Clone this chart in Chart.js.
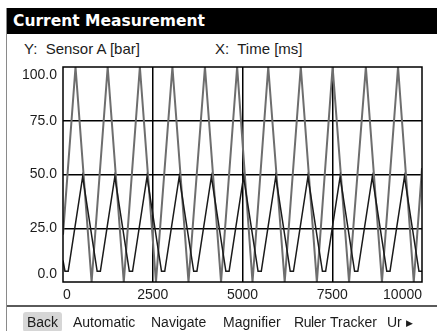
<!DOCTYPE html>
<html>
<head>
<meta charset="utf-8">
<script src="https://cdn.jsdelivr.net/npm/chart.js@4.4.1/dist/chart.umd.min.js"></script>
<style>
  body { margin: 0; width: 437px; height: 331px; background: #fff; overflow: hidden; position: relative;
         font-family: "Liberation Sans", Arial, sans-serif; color: #1c1c1c; }
  #frame { position: absolute; left: 6px; top: 8px; width: 1px; height: 323px; background: #8a8a8a; }
  #title { position: absolute; left: 7px; top: 8px; right: 0; height: 26px; background: #000; color: #fff;
           font: bold 15.5px "DejaVu Sans", sans-serif; line-height: 27px; padding-left: 6px; }
  .axisName { position: absolute; top: 40px; font-size: 15px; line-height: 17px; white-space: pre; }
  #chartBox { position: absolute; left: 0; top: 56px; width: 437px; height: 250px; }
  #menu { position: absolute; left: 7px; top: 305px; right: 0; height: 26px; border-top: 2px solid #5a5a5a; }
  .item { position: absolute; top: 7px; font-size: 14px; line-height: 16px; white-space: pre; }
  .item.active { background: #d6d6d6; border-radius: 3px; padding: 2px 4px; margin: -2px 0 0 -4px; }
  .more { font-size: 9px; margin-left: 4px; vertical-align: 1px; }
</style>
</head>
<body>
<div id="frame"></div>
<div id="title">Current Measurement</div>
<div class="axisName" style="left:24px">Y:  Sensor A [bar]</div>
<div class="axisName" style="left:215px">X:  Time [ms]</div>
<div id="chartBox"><canvas id="chart" width="437" height="250"></canvas></div>
<div id="menu">
  <span class="item active" style="left:20px">Back</span>
  <span class="item" style="left:66px">Automatic</span>
  <span class="item" style="left:144px">Navigate</span>
  <span class="item" style="left:216px">Magnifier</span>
  <span class="item" style="left:287px;letter-spacing:-0.4px">Ruler</span>
  <span class="item" style="left:323px">Tracker</span>
  <span class="item" style="left:380px">Ur<span class="more">&#9654;</span></span>
</div>
<script>
// big triangle signal, 0..100 bar
const rampTimes  = [0, 350, 800, 1250, 1700, 2150, 2600, 3060, 3510, 3970, 4420, 4870, 5300, 5740, 6200, 6650, 7100, 7540, 8000, 8470, 8920, 9370, 9810, 10040];
const rampValues = [22, 100, 0, 100, 0, 100, 0, 100, 0, 100, 0, 100, 0, 100, 0, 100, 0, 100, 0, 100, 0, 100, 0, 53];

// smaller signal with flat bottoms
const stepTimes  = [0, 55, 145, 550, 955, 1045, 1450, 1855, 1945, 2350, 2755, 2845, 3250, 3655, 3745, 4150, 4555, 4645, 5050, 5455, 5545, 5950, 6355, 6445, 6850, 7255, 7345, 7750, 8155, 8245, 8650, 9055, 9145, 9550, 9955, 10040];
const stepValues = [10, 5, 5, 49, 5, 5, 49, 5, 5, 49, 5, 5, 49, 5, 5, 49, 5, 5, 49, 5, 5, 49, 5, 5, 49, 5, 5, 49, 5, 5, 49, 5, 5, 49, 5, 5];

const xTicks = ['0', '2500', '5000', '7500', '10000'];
const yTicks = ['0.0', '25.0', '50.0', '75.0', '100.0'];

const toPoints = (xs, ys) => xs.map((x, i) => ({ x: x, y: ys[i] }));

// black box round the plot area
const plotFrame = {
  id: 'plotFrame',
  afterDraw(chart) {
    const { ctx, chartArea: a } = chart;
    ctx.save();
    ctx.strokeStyle = '#000';
    ctx.lineWidth = 1.5;
    ctx.strokeRect(a.left, a.top, a.right - a.left, a.bottom - a.top);
    ctx.restore();
  }
};

const tickFont = { family: '"Liberation Sans", Arial, sans-serif', size: 14 };
const innerGrid = (lo, hi) => c => (c.tick && c.tick.value > lo && c.tick.value < hi) ? '#000' : 'rgba(0,0,0,0)';

// end labels of the value axis sit inside the box: pad them with an empty line
const yLabel = (v, i, ticks) => {
  if (i === 0) return [yTicks[i], ''];
  if (i === ticks.length - 1) return ['', yTicks[i]];
  return yTicks[i];
};

new Chart(document.getElementById('chart'), {
  type: 'line',
  data: {
    datasets: [
      {
        data: toPoints(stepTimes, stepValues),
        borderColor: '#1a1a1a',
        borderWidth: 1.5,
        pointRadius: 0,
        tension: 0,
        order: 0
      },
      {
        data: toPoints(rampTimes, rampValues),
        borderColor: '#6e6e6e',
        borderWidth: 2,
        pointRadius: 0,
        tension: 0,
        order: 1
      }
    ]
  },
  options: {
    responsive: false,
    devicePixelRatio: 1,
    animation: false,
    events: [],
    layout: { padding: { top: 11, right: 15, bottom: 0, left: 0 } },
    plugins: { legend: { display: false }, tooltip: { enabled: false } },
    scales: {
      x: {
        type: 'linear',
        min: 0,
        max: 10040,
        afterFit(s) { s.height = 24; s.paddingLeft = 0; s.paddingRight = 0; },
        ticks: {
          stepSize: 2500,
          includeBounds: false,
          align: 'inner',
          padding: 5,
          maxRotation: 0,
          autoSkip: false,
          color: '#1c1c1c',
          font: tickFont,
          callback: (v, i) => xTicks[i]
        },
        grid: { color: innerGrid(0, 10000), lineWidth: 1.5, drawTicks: false },
        border: { display: false }
      },
      y: {
        min: 0,
        max: 100,
        afterFit(s) { s.width = 63; s.paddingTop = 0; s.paddingBottom = 0; },
        ticks: {
          stepSize: 25,
          padding: 6,
          color: '#1c1c1c',
          font: { family: tickFont.family, size: 14, lineHeight: 1.1 },
          callback: yLabel
        },
        grid: { color: innerGrid(0, 100), lineWidth: 1.5, drawTicks: false },
        border: { display: false }
      }
    }
  },
  plugins: [plotFrame]
});
</script>
</body>
</html>
